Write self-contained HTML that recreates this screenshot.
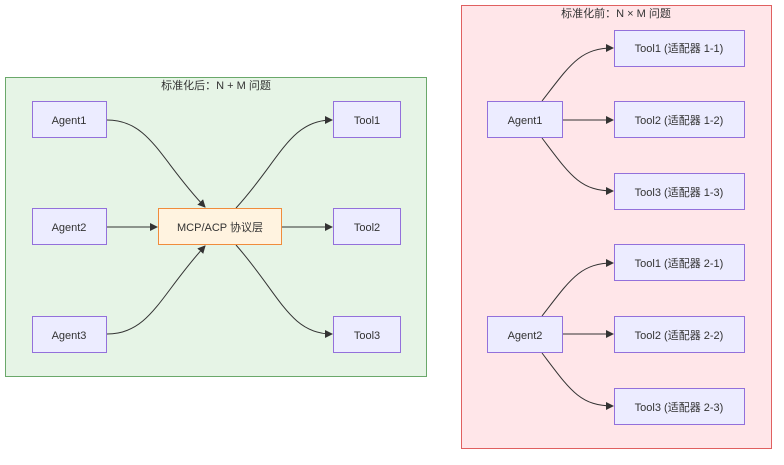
<!DOCTYPE html>
<html><head><meta charset="utf-8"><style>
body{margin:0;background:#fff}
text{font-family:"Liberation Sans","Noto Sans CJK SC",sans-serif;font-size:11px;fill:#333}
</style></head><body>
<svg width="784" height="460" viewBox="0 0 784 460" xmlns="http://www.w3.org/2000/svg">
<defs><marker id="a" markerWidth="8" markerHeight="8" refX="7" refY="4" orient="auto" markerUnits="userSpaceOnUse"><path d="M0,0L8,4L0,8z" fill="#333"/></marker></defs>
<rect x="5.5" y="77.5" width="421" height="299" fill="#e6f4e6" stroke="#6aa86a"/>
<text x="216" y="89" text-anchor="middle">标准化后：N + M 问题</text>
<rect x="461.5" y="5.5" width="310" height="443" fill="#ffe6e9" stroke="#e06060"/>
<text x="616" y="17" text-anchor="middle">标准化前：N × M 问题</text>
<g fill="none" stroke="#333" stroke-width="1" marker-end="url(#a)">
<path d="M107,120 C150,120 160,160 205,207"/>
<path d="M107,227 L157,227"/>
<path d="M107,334 C150,334 160,295 205,246"/>
<path d="M236,208 C280,160 290,120 332,120"/>
<path d="M281,227 L332,227"/>
<path d="M236,245 C280,295 290,334 332,334"/>
<path d="M542,101 C570,65 580,48 613,48"/>
<path d="M562,120 L613,120"/>
<path d="M542,138 C570,175 580,191 613,191"/>
<path d="M542,316 C570,280 580,263 613,263"/>
<path d="M562,334 L613,334"/>
<path d="M542,353 C570,390 580,406 613,406"/>
</g>
<g fill="#ececff" stroke="#9370db">
<rect x="32.5" y="101.5" width="74" height="36"/>
<rect x="32.5" y="208.5" width="74" height="36"/>
<rect x="32.5" y="316.5" width="74" height="36"/>
<rect x="333.5" y="101.5" width="67" height="36"/>
<rect x="333.5" y="208.5" width="67" height="36"/>
<rect x="333.5" y="316.5" width="67" height="36"/>
<rect x="487.5" y="101.5" width="75" height="36"/>
<rect x="487.5" y="316.5" width="75" height="36"/>
<rect x="614.5" y="30.5" width="130" height="36"/>
<rect x="614.5" y="101.5" width="130" height="36"/>
<rect x="614.5" y="173.5" width="130" height="36"/>
<rect x="614.5" y="244.5" width="130" height="36"/>
<rect x="614.5" y="316.5" width="130" height="36"/>
<rect x="614.5" y="388.5" width="130" height="36"/>
</g>
<rect x="158.5" y="208.5" width="123" height="36" fill="#fff3e0" stroke="#f08c3c"/>
<g text-anchor="middle">
<text x="69" y="124">Agent1</text>
<text x="69" y="231">Agent2</text>
<text x="69" y="339">Agent3</text>
<text x="220" y="231">MCP/ACP 协议层</text>
<text x="367" y="124">Tool1</text>
<text x="367" y="231">Tool2</text>
<text x="367" y="339">Tool3</text>
<text x="525" y="124">Agent1</text>
<text x="525" y="339">Agent2</text>
<text x="679" y="52">Tool1 (适配器 1-1)</text>
<text x="679" y="124">Tool2 (适配器 1-2)</text>
<text x="679" y="196">Tool3 (适配器 1-3)</text>
<text x="679" y="267">Tool1 (适配器 2-1)</text>
<text x="679" y="339">Tool2 (适配器 2-2)</text>
<text x="679" y="411">Tool3 (适配器 2-3)</text>
</g>
</svg>
</body></html>
